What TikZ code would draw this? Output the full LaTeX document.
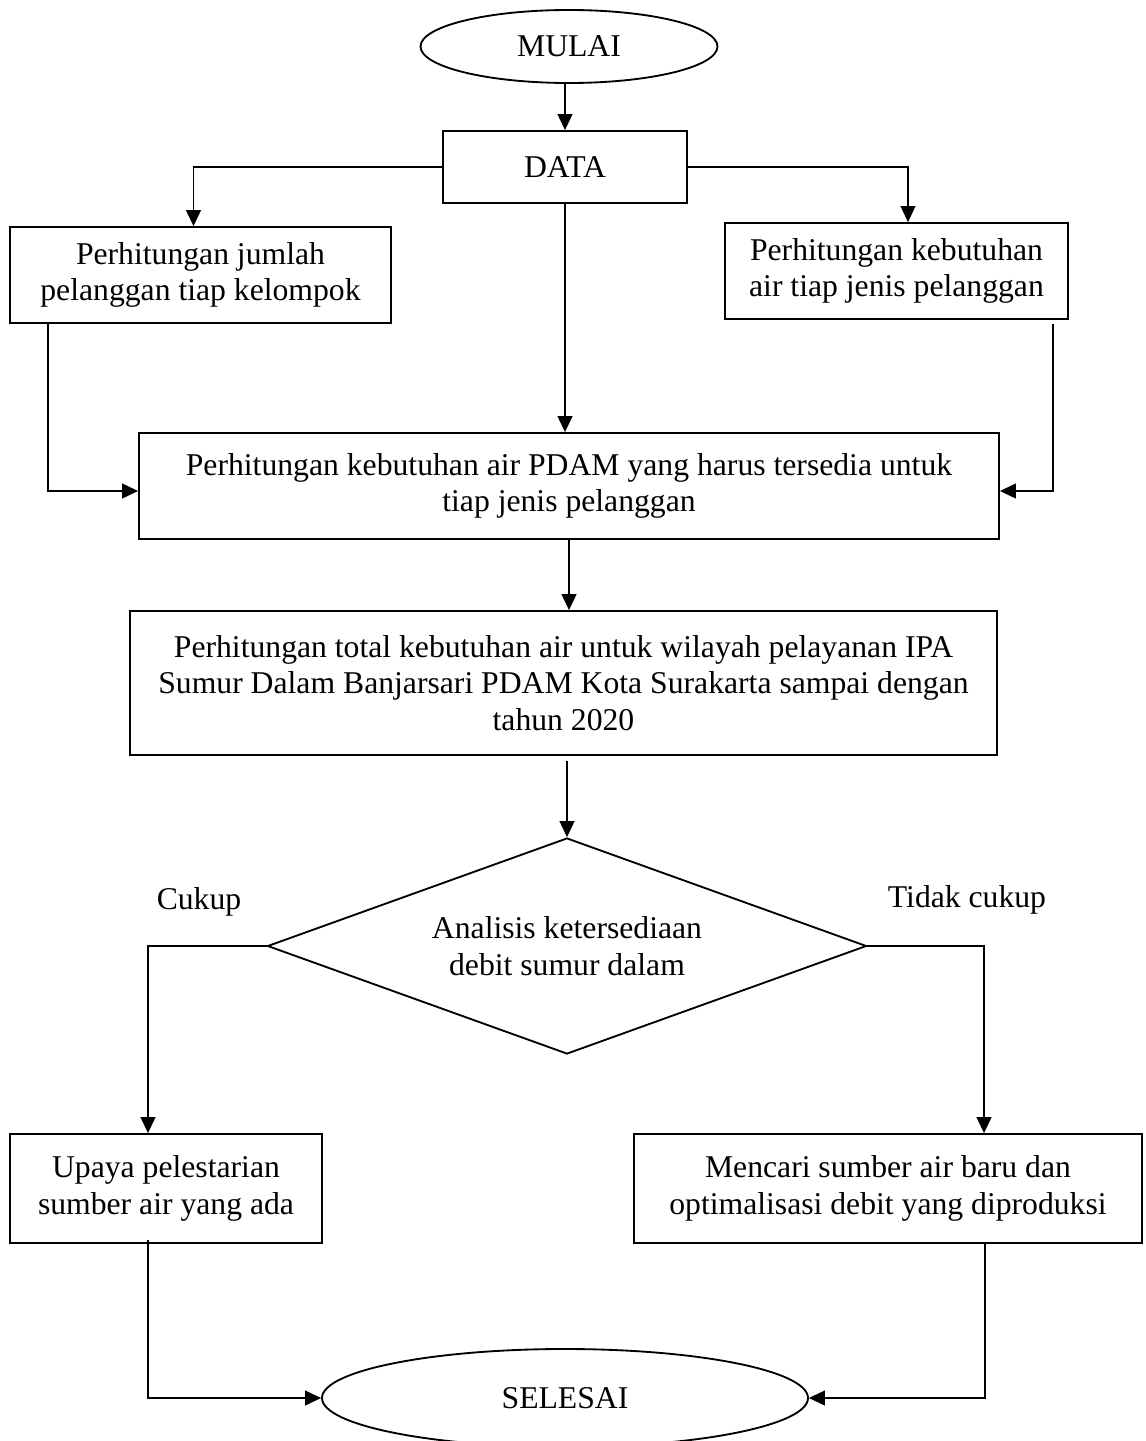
\documentclass[tikz,border=0pt]{standalone}
\usepackage{fontspec}
\setmainfont{Liberation Serif}
\usetikzlibrary{arrows.meta,calc,shapes.geometric}
\def\pxu{0.3788pt}
\tikzset{
	txt/.style={font=\fontsize{12}{13.9}\selectfont},
	box/.style={txt, draw, line width=0.7pt, rectangle, inner sep=0pt, align=center},
	startstop/.style={txt, draw, line width=0.7pt, ellipse, inner sep=0pt},
	decision/.style={txt, draw, line width=0.7pt, diamond, aspect=2.77, inner sep=0pt, align=center},
	arr/.style={line width=0.5pt, -{Triangle[length=6pt,width=5.6pt]}}
}

\begin{document}
\begin{tikzpicture}[x=\pxu, y=-\pxu]
			%%%%% START %%%%%
			\useasboundingbox (0,0) rectangle (1146,1441);
			
			\node[startstop, minimum width=297*\pxu, minimum height=73*\pxu] (mulai) at (569, 46.5) {MULAI};
			\node[box, minimum width=244*\pxu, minimum height=72*\pxu] (data) at (565, 167) {DATA};
			
			\node[box, minimum width=381*\pxu, minimum height=96*\pxu] (jumlah) at (200.5, 275) {Perhitungan jumlah\\pelanggan tiap kelompok};
			\node[box, minimum width=343*\pxu, minimum height=96*\pxu] (kebutuhan) at (896.5, 271) {Perhitungan kebutuhan\\air tiap jenis pelanggan};
			
			\node[box, minimum width=860*\pxu, minimum height=106*\pxu] (pdam) at (569, 486) {Perhitungan kebutuhan air PDAM yang harus tersedia untuk\\tiap jenis pelanggan};
			\node[box, minimum width=867*\pxu, minimum height=144*\pxu] (total) at (563.5, 683) {Perhitungan total kebutuhan air untuk wilayah pelayanan IPA\\Sumur Dalam Banjarsari PDAM Kota Surakarta sampai dengan\\tahun 2020};
			
			\node[decision, minimum width=599*\pxu, minimum height=216*\pxu] (analisis) at (567, 946) {Analisis ketersediaan\\debit sumur dalam};
			\node[txt] (cukup) at (199, 902) {Cukup};
			\node[txt] (tidak) at (967, 900) {Tidak cukup};
			
			\node[box, minimum width=312*\pxu, minimum height=109*\pxu] (upaya) at (166, 1188.5) {Upaya pelestarian\\sumber air yang ada};
			\node[box, minimum width=508*\pxu, minimum height=109*\pxu] (mencari) at (888, 1188.5) {Mencari sumber air baru dan\\optimalisasi debit yang diproduksi};
			
			\node[startstop, minimum width=486*\pxu, minimum height=98*\pxu] (selesai) at (565, 1398) {SELESAI};
			
			% arrows
			\draw[arr] (data.north |- mulai.south) -- (data.north);
			\draw[arr] (data.west) -| ($(jumlah.north)+(-7,0)$);
			\draw[arr] (data.east) -| ($(kebutuhan.north)+(11.5,0)$);
			\draw[arr] (data.south) -- (data.south |- pdam.north);
			\draw[arr] ($(jumlah.south west)+(39,0)$) |- ($(pdam.west)+(0,5)$);
			\draw[arr] ($(kebutuhan.south east)+(-16,4)$) |- ($(pdam.east)+(0,5)$);
			
			\draw[arr] (pdam.south) -- (pdam.south |- total.north);
			\draw[arr] ($(analisis.north |- total.south)+(0,5)$) -- (analisis.north);
			
			\draw[arr] (analisis.west) -| ($(upaya.north)+(-18,0)$);
			\draw[arr] (analisis.east) -| ($(mencari.north)+(96,0)$);
			\draw[arr] ($(upaya.south)+(-18,-4)$) |- (selesai.west);
			\draw[arr] ($(mencari.south)+(97,0)$) |- (selesai.east);
			
			%%%%% END %%%%%
\end{tikzpicture}
\end{document}
